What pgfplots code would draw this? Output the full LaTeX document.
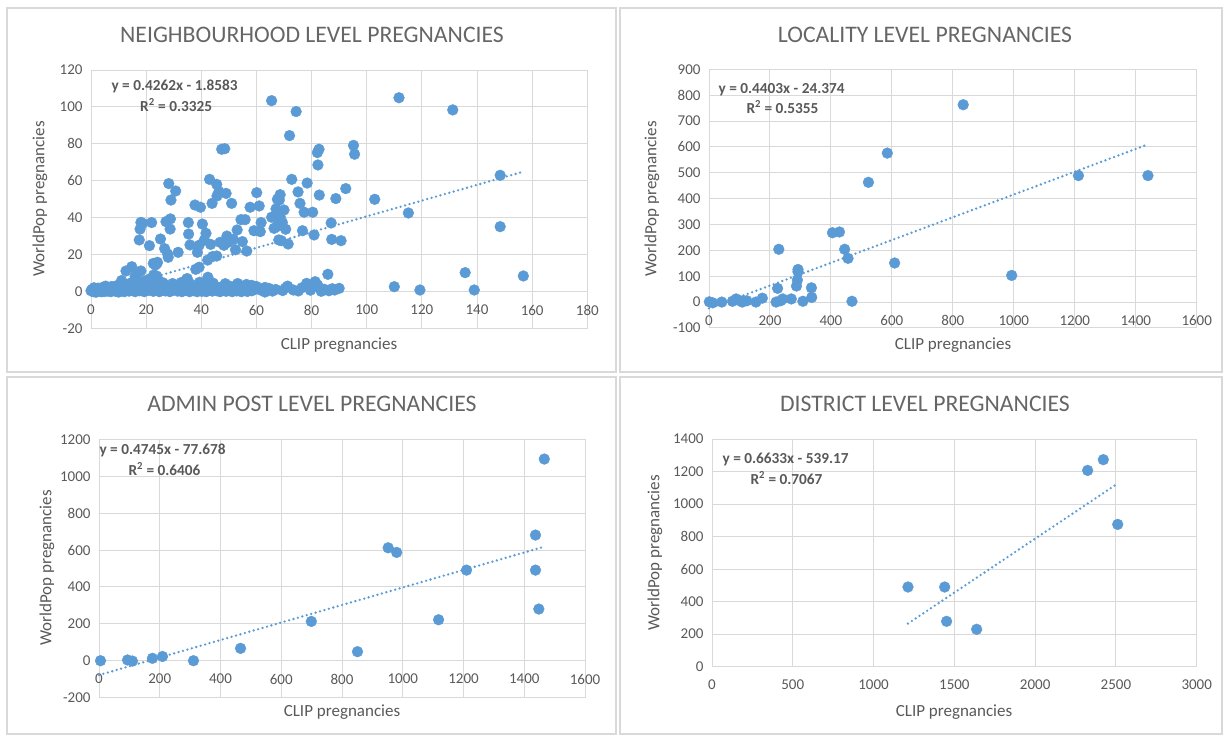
\documentclass[border=0pt]{standalone}
\usepackage{fontspec}
\setmainfont{Carlito}
\usepackage{pgfplots}
\pgfplotsset{compat=1.18}
\definecolor{mk}{HTML}{5B9BD5}
\definecolor{gridc}{HTML}{D9D9D9}
\definecolor{txt}{HTML}{595959}
\definecolor{ttlc}{HTML}{666666}
\definecolor{framec}{HTML}{D9D9D9}
\pgfplotsset{
 exc/.style={
  scale only axis, anchor=north west, clip=false,
  axis x line=middle, axis y line=left,
  axis line style={draw=none,-},
  grid=major, major grid style={draw=gridc, line width=1pt},
  major tick length=0pt,
  tick label style={font=\fontsize{15}{18}\selectfont, text=txt},
  /pgf/number format/assume math mode=true,
  /pgf/number format/1000 sep={},
  hide obscured x ticks=false, hide obscured y ticks=false,
  xticklabel style={yshift=-10pt},
  yticklabel style={xshift=-5pt},
 },
 mks/.style={only marks, mark=*, mark size=5.4pt, mark options={fill=mk, draw=mk}},
 trend/.style={mk, no marks, line width=2.6pt, dash pattern=on 0pt off 4.6pt, line cap=round},
}
\tikzset{
 ttl/.style={ttlc, font=\fontsize{23.7}{28}\selectfont},
 lab/.style={txt, font=\fontsize{17}{20}\selectfont},
 eq/.style={txt, font=\fontsize{15.3}{18}\selectfont\bfseries, anchor=west},
}
\begin{document}
\begin{tikzpicture}
\path[use as bounding box] (0,0) rectangle (1225pt,-737pt);
\draw[framec, line width=2pt] (7pt,-8pt) rectangle (616pt,-372pt);
\draw[framec, line width=2pt] (620pt,-8pt) rectangle (1222pt,-372pt);
\draw[framec, line width=2pt] (7pt,-377pt) rectangle (616pt,-734pt);
\draw[framec, line width=2pt] (620pt,-377pt) rectangle (1222pt,-734pt);

% ---------- Neighbourhood ----------
\begin{axis}[exc, at={(91pt,-70pt)}, width=496.3pt, height=258.6pt,
  xmin=0, xmax=180, ymin=-20, ymax=120,
  xtick={0,20,...,180}, ytick={-20,0,...,120}]
\addplot[mks] table {
x y
65.5 103.4
111.7 105
131.2 98.4
74.4 97.5
72 84.5
95.2 79.2
95.6 74.4
47.4 77.1
48.5 77.4
82.1 75.3
82.7 77.1
82.3 68.6
148.4 63
43 60.8
72.8 60.8
28.2 58.5
45.6 58.1
78.4 58.8
30.7 54.5
92.4 55.8
49 53.2
45.7 51.8
46.4 54.2
75.1 54
60.1 53.6
68.6 52.5
82.8 52.3
67.6 50
68.3 49.6
29 49.6
102.9 50
88.8 50.4
51 47.8
43.9 47.8
37.7 46.9
39.7 45.7
75.8 47.8
61 46.4
57.7 45.7
67.1 44.8
70 44.2
77.3 43
80.4 43
115.1 42.6
65.5 40.3
68.6 40.6
54.4 39
55.9 39
18.1 37.5
18.7 37
22 37.4
27.2 37.9
28.8 39.4
35.3 37.4
40.4 36.6
61.7 37.4
68.2 37.4
69.4 37.5
87.1 37.2
17.8 33.9
28.7 33.9
35.4 31.2
53 33.4
59.1 33
61.4 32.5
66.4 34.3
67.4 35.2
70.6 33.8
76.7 33
148.4 35.2
49.3 30.1
51.6 28.3
49.7 26.7
41.7 31.6
41.1 28
39.2 25.1
35.9 25.3
38.6 21.3
43.4 25.6
46.8 26.7
48.2 25.1
54.9 27.1
52.4 22.7
56.5 22
68.1 28
69 27.6
71.5 25.8
80.9 30.7
87.3 28.3
90.7 27.6
25.2 28.5
17.5 28
21.2 24.9
26.7 23.3
27.8 20.4
28 18.6
31.6 21.3
22.6 15.3
24.1 15.9
12.7 11.2
14.8 13.5
18.1 11.2
38 12.1
39.2 13.2
42.3 17.1
44.1 19
45.6 19.3
16.2 8.5
23.8 8.5
34.7 6.7
42.4 7.8
11.1 6
85.9 9.4
135.7 10.3
156.8 8.5
110 2.7
119.3 0.9
139 0.9
78.2 4.5
81.3 5.4
82.2 3.6
90 1.8
71.3 3
73.4 0.9
63.1 2.3
63.1 -0.2
58.3 3.4
16 8.1
22.7 9
23.3 14.4
23.9 15.3
34.9 7.1
0 0.5
0.4 1.2
0.8 0
1.3 0.6
1.8 -0.3
2.3 0.9
2.9 0.2
3.4 1.5
3.9 0
4.5 0.7
5 0.1
5.6 1.1
6.1 0.3
6.7 2.0
7.2 0
7.8 0.9
8.3 1.6
8.9 0.2
9.4 0.8
10 -0.2
10.5 1.4
11 0.4
11.6 2.2
12.1 0
12.7 1.0
13.2 2.6
13.8 0.3
14.3 1.8
14.9 0.6
15.4 3.1
16 0
16.5 1.3
17.1 2.4
17.6 0.5
18.2 3.5
18.7 1.0
19.3 0
19.8 2.0
20.4 4.2
20.9 0.7
21.5 1.6
22 3.0
22.6 0.2
23.1 4.5
23.7 1.2
24.2 2.5
24.8 0
25.3 3.8
25.9 1.0
26.4 2.0
27 0.4
27.5 3.2
28.1 1.4
28.6 0
29.2 2.6
29.7 0.8
30.3 1.8
30.8 3.4
31.4 0.3
31.9 1.5
32.5 2.4
33 0
33.6 1.1
34.1 3.0
34.7 0.6
35.2 2.0
35.8 0
36.3 1.3
36.9 3.3
37.4 0.5
38 1.9
38.5 0
39.1 2.7
39.6 1.0
40.2 0.2
40.7 3.6
41.3 1.5
41.8 0
42.4 2.2
42.9 0.8
43.5 3.1
44 0.3
44.6 1.7
45.1 2.9
45.7 0.5
46.2 1.4
46.8 0
47.3 2.5
47.9 1.0
48.4 3.2
49 0.2
49.5 1.8
50.1 0.6
50.6 2.8
51.2 0
51.7 1.5
52.3 3.0
52.8 0.4
53.4 1.2
53.9 2.6
54.5 0
55 1.9
55.6 0.7
56.1 2.3
56.7 0.1
57.2 1.4
57.8 2.9
58.3 0.5
59 1.0
64.5 1.8
65.8 0.3
67 1.2
69.5 0.6
70.5 1.9
75.2 0.4
76.5 2.1
79.6 0.8
80.8 2.6
83.5 0.2
84.6 1.3
86.3 0.5
87.5 1.6
88.4 0.9
1.1 2.1
2.6 1.9
4.2 2.3
5.3 3.0
7.5 2.8
9.1 3.1
10.8 2.9
12.4 3.6
14 4.4
15.7 4.9
17.3 5.2
19 5.6
20.6 6.4
21.8 5.8
24.5 6.0
26.1 4.8
29.6 4.4
32.8 5.0
36 4.2
39.4 5.1
44.3 4.6
48.7 4.3
53.2 4.4
56.4 3.9
60 2.8
61.5 0.9
};
\addplot[trend] coordinates {(0,-1.8583) (157,65.055)};
\end{axis}

% ---------- Locality ----------
\begin{axis}[exc, at={(709pt,-69.3pt)}, width=487.7pt, height=258.6pt,
  xmin=0, xmax=1600, ymin=-100, ymax=900,
  xtick={0,200,...,1600}, ytick={-100,0,...,900}]
\addplot[mks] table {
x y
834 763
585 576
523 463
1212 489
1440 489
405 268
428 271
229 204
445 204
456 169
609 151
993 103
292 126
292 117
290 85
287 62
336 55
225 53
469 3
337 18
308 3
270 12
242 12
235 5
220 0
175 15
154 0
124 5
109 0
102 5
89 12
77 3
42 0
12 -3
1 1
};
\addplot[trend] coordinates {(0,-24.374) (1440,609.66)};
\end{axis}

% ---------- Admin post ----------
\begin{axis}[exc, at={(99pt,-439.3pt)}, width=486pt, height=258.3pt,
  xmin=0, xmax=1600, ymin=-200, ymax=1200,
  xtick={0,200,...,1600}, ytick={-200,0,...,1200}]
\addplot[mks] table {
x y
1466 1093
1437 681
952 612
980 587
1210 491
1437 491
1448 280
1118 222
699 213
466 67
851 49
209 23
176 13
311 0
94 4
110 -2
5 0
};
\addplot[trend] coordinates {(0,-77.678) (1466,617.94)};
\end{axis}

% ---------- District ----------
\begin{axis}[exc, axis x line=bottom, at={(712pt,-439pt)}, width=484.7pt, height=227.7pt,
  xmin=0, xmax=3000, ymin=0, ymax=1400,
  xtick={0,500,...,3000}, ytick={0,200,...,1400}]
\addplot[mks] table {
x y
2422 1273
2325 1207
2511 875
1213 490
1440 490
1452 279
1638 230
};
\addplot[trend] coordinates {(1213,265.4) (2511,1126.4)};
\end{axis}

% titles
\node[ttl] at (312pt,-35pt) {NEIGHBOURHOOD LEVEL PREGNANCIES};
\node[ttl] at (925pt,-35pt) {LOCALITY LEVEL PREGNANCIES};
\node[ttl] at (312pt,-404pt) {ADMIN POST LEVEL PREGNANCIES};
\node[ttl] at (925pt,-404pt) {DISTRICT LEVEL PREGNANCIES};
% axis labels
\node[lab] at (339pt,-345pt) {CLIP pregnancies};
\node[lab] at (953pt,-345pt) {CLIP pregnancies};
\node[lab] at (342pt,-712pt) {CLIP pregnancies};
\node[lab] at (954pt,-712pt) {CLIP pregnancies};
\node[lab, rotate=90] at (40pt,-199pt) {WorldPop pregnancies};
\node[lab, rotate=90] at (652pt,-199pt) {WorldPop pregnancies};
\node[lab, rotate=90] at (47pt,-568pt) {WorldPop pregnancies};
\node[lab, rotate=90] at (655pt,-553pt) {WorldPop pregnancies};
% equations
\node[eq] at (108pt,-86.7pt) {y = 0.4262x - 1.8583};
\node[eq] at (136.7pt,-105pt) {R\textsuperscript{2} = 0.3325};
\node[eq] at (715pt,-89.3pt) {y = 0.4403x - 24.374};
\node[eq] at (743pt,-107pt) {R\textsuperscript{2} = 0.5355};
\node[eq] at (96pt,-450.7pt) {y = 0.4745x - 77.678};
\node[eq] at (125pt,-469pt) {R\textsuperscript{2} = 0.6406};
\node[eq] at (719pt,-459pt) {y = 0.6633x - 539.17};
\node[eq] at (747pt,-478pt) {R\textsuperscript{2} = 0.7067};
\end{tikzpicture}
\end{document}
